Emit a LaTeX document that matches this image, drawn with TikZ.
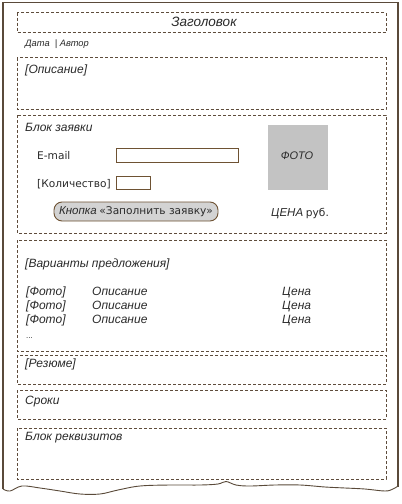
\documentclass[tikz,border=0pt]{standalone}
\usepackage{fontspec}
\setmainfont{Liberation Sans}
\newfontfamily\tah{DejaVu Sans}
\definecolor{frame}{HTML}{5A4A3A}
\definecolor{dash}{HTML}{5E4C3C}
\definecolor{field}{HTML}{6E5233}
\definecolor{photo}{HTML}{C3C3C3}
\definecolor{btn}{HTML}{D3D3D3}
\definecolor{txt}{HTML}{2A2A2A}
\begin{document}
\begin{tikzpicture}[x=1pt,y=-1pt,
  blk/.style={draw=dash,line width=0.8pt,dash pattern=on 3pt off 2pt},
  lbl/.style={anchor=base west,inner sep=0pt,text=txt,font=\itshape\fontsize{12}{14}\selectfont},
  fld/.style={draw=field,line width=0.9pt},
  tx/.style={anchor=base west,inner sep=0pt,text=txt,font=\tah\fontsize{10.6}{12}\selectfont}]
\useasboundingbox[fill=white] (0,0) rectangle (402,504);
% outer frame
\draw[frame,line width=1.1pt] (3,489) -- (3,2.5) -- (398,2.5) -- (398,487);
\draw[frame,line width=0.9pt] plot[smooth,tension=0.6] coordinates{
 (3,489) (10,491) (22,486) (40,488) (60,491) (80,494) (100,494) (118,490) (140,486) (170,485) (200,485)
 (218,484) (226,481.5) (236,485) (250,486) (275,485) (300,485) (325,487) (345,488) (365,489) (385,491) (393,489) (398,486)};
% header
\draw[blk] (17,12.5) rectangle (386,32);
\node[anchor=base,inner sep=0pt,text=txt,font=\itshape\fontsize{13.5}{15}\selectfont] (title) at (204,26) {Заголовок};
\node[lbl,font=\itshape\fontsize{9.3}{11}\selectfont] (date) at (25,46) {Дата \ | Автор};
% description
\draw[blk] (17,57.5) rectangle (386,109);
\node[lbl] (desc) at (25,73.5) {[Описание]};
% order block
\draw[blk] (17,115) rectangle (386,233);
\node[lbl] (order) at (25,131) {Блок заявки};
\node[tx] (email) at (37,159) {E-mail};
\draw[fld] (116,148) rectangle (238,162);
\node[tx] (qty) at (37,187) {[Количество]};
\draw[fld] (116,176) rectangle (150,189);
\fill[photo] (268,124.5) rectangle (327.5,190);
\node[anchor=base,inner sep=0pt,text=txt,font=\itshape\fontsize{11}{12}\selectfont] (foto) at (297,159) {ФОТО};
\node[draw=field,fill=btn,line width=0.9pt,rounded corners=8pt,minimum width=164pt,minimum height=19pt,inner sep=0pt,text=txt] (btn) at (136,211.5) {{\itshape\fontsize{11.5}{12}\selectfont Кнопка} {\tah\fontsize{10.6}{12}\selectfont «Заполнить заявку»}};
\node[anchor=base west,inner sep=0pt,text=txt] (price) at (271,216.5) {{\itshape\fontsize{11.5}{12}\selectfont ЦЕНА} {\tah\fontsize{10.6}{12}\selectfont руб.}};
% variants
\draw[blk] (17,240) rectangle (386,351);
\node[lbl] (var) at (25,267) {[Варианты предложения]};
\foreach \yy/\n in {295/1,309/2,323/3}{
  \node[lbl] (f\n) at (26,\yy) {[Фото]};
  \node[lbl] (d\n) at (92,\yy) {Описание};
  \node[lbl] (p\n) at (282,\yy) {Цена};
}
\node[lbl,font=\fontsize{8}{10}\selectfont] (dots) at (26,338) {...};
% resume
\draw[blk] (17,355) rectangle (386,384);
\node[lbl] (res) at (25,367) {[Резюме]};
% terms
\draw[blk] (17,390) rectangle (386,419);
\node[lbl] (terms) at (25,404) {Сроки};
% requisites
\draw[blk] (17,428) rectangle (386,479);
\node[lbl] (req) at (25,440) {Блок реквизитов};
\end{tikzpicture}
\end{document}
